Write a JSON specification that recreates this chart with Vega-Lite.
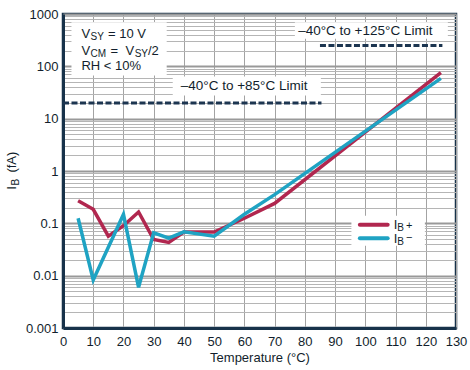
{
  "$schema": "https://vega.github.io/schema/vega-lite/v6.json",
  "width": 393,
  "height": 314,
  "autosize": "none",
  "padding": {"left": 63, "top": 14, "right": 14, "bottom": 42},
  "background": "white",
  "config": {
    "font": "Liberation Sans",
    "view": {"stroke": "#17324a", "strokeWidth": 2.5}
  },
  "datasets": {
    "series": [
      {"x": 5, "y": 0.27, "s": "IB+"},
      {"x": 10, "y": 0.185, "s": "IB+"},
      {"x": 15, "y": 0.057, "s": "IB+"},
      {"x": 20, "y": 0.09, "s": "IB+"},
      {"x": 25, "y": 0.165, "s": "IB+"},
      {"x": 30, "y": 0.049, "s": "IB+"},
      {"x": 35, "y": 0.043, "s": "IB+"},
      {"x": 40, "y": 0.068, "s": "IB+"},
      {"x": 50, "y": 0.068, "s": "IB+"},
      {"x": 60, "y": 0.125, "s": "IB+"},
      {"x": 70, "y": 0.24, "s": "IB+"},
      {"x": 125, "y": 76, "s": "IB+"},
      {"x": 5, "y": 0.125, "s": "IB−"},
      {"x": 10, "y": 0.0083, "s": "IB−"},
      {"x": 20, "y": 0.148, "s": "IB−"},
      {"x": 25, "y": 0.006, "s": "IB−"},
      {"x": 30, "y": 0.066, "s": "IB−"},
      {"x": 35, "y": 0.052, "s": "IB−"},
      {"x": 40, "y": 0.069, "s": "IB−"},
      {"x": 50, "y": 0.057, "s": "IB−"},
      {"x": 60, "y": 0.149, "s": "IB−"},
      {"x": 70, "y": 0.353, "s": "IB−"},
      {"x": 125, "y": 59, "s": "IB−"}
    ],
    "boxes": [
      {"x": 2.8, "x2": 34.3, "y": 697, "y2": 66.7},
      {"x": 36.3, "x2": 85.3, "y": 63.9, "y2": 27.6},
      {"x": 76.7, "x2": 127.3, "y": 697, "y2": 335},
      {"x": 95.4, "x2": 119.7, "y": 0.14, "y2": 0.0375}
    ],
    "limits": [
      {"x": 0, "x2": 85.5, "y": 20},
      {"x": 85, "x2": 125.5, "y": 250}
    ],
    "legendLines": [
      {"x": 98.2, "x2": 107.4, "y": 0.0944, "s": "IB+"},
      {"x": 98.2, "x2": 107.4, "y": 0.0516, "s": "IB−"}
    ],
    "texts": [
      {"x": 6.1, "y": 344.5, "t": "V", "k": "m"},
      {"x": 9.1, "y": 318, "t": "SY", "k": "s"},
      {"x": 14.9, "y": 344.5, "t": "= 10 V", "k": "m"},
      {"x": 6.1, "y": 168, "t": "V", "k": "m"},
      {"x": 9.1, "y": 154, "t": "CM", "k": "s"},
      {"x": 15.7, "y": 168, "t": "=", "k": "m"},
      {"x": 20.7, "y": 168, "t": "V", "k": "m"},
      {"x": 23.7, "y": 154, "t": "SY", "k": "s"},
      {"x": 28.1, "y": 168, "t": "/2", "k": "m"},
      {"x": 6.1, "y": 86.9, "t": "RH < 10%", "k": "m"},
      {"x": 109.4, "y": 0.078, "t": "I", "k": "m"},
      {"x": 110.6, "y": 0.071, "t": "B", "k": "s"},
      {"x": 113.5, "y": 0.0793, "t": "+", "k": "p"},
      {"x": 109.4, "y": 0.0428, "t": "I", "k": "m"},
      {"x": 110.6, "y": 0.0383, "t": "B", "k": "s"},
      {"x": 113.5, "y": 0.0457, "t": "−", "k": "p"},
      {"x": 59.9, "y": 42.9, "t": "–40°C to +85°C Limit", "k": "c"},
      {"x": 100, "y": 469, "t": "–40°C to +125°C Limit", "k": "c"},
      {"x": -15.4, "y": 0.44, "t": "I", "k": "r"},
      {"x": -14.6, "y": 0.526, "t": "B", "k": "rs"},
      {"x": -15.4, "y": 0.931, "t": "(fA)", "k": "r"}
    ]
  },
  "encoding": {
    "x": {
      "field": "x",
      "type": "quantitative",
      "scale": {"domain": [0, 130], "nice": false, "zero": false},
      "axis": {
        "values": [0, 10, 20, 30, 40, 50, 60, 70, 80, 90, 100, 110, 120, 130],
        "title": "Temperature (°C)",
        "grid": true,
        "gridColor": "#a3a3a3",
        "gridWidth": 1,
        "ticks": false,
        "tickSize": 0,
        "domainColor": "#17324a",
        "domainWidth": 3,
        "labelFontSize": 13,
        "labelColor": "#121e2c",
        "labelPadding": 7,
        "labelFlush": false,
        "labelOverlap": false,
        "titleFontSize": 13,
        "titleFontWeight": "normal",
        "titleColor": "#121e2c",
        "titlePadding": 3
      }
    },
    "y": {
      "field": "y",
      "type": "quantitative",
      "scale": {"type": "log", "domain": [0.001, 1000], "nice": false},
      "axis": {
        "values": [0.001,0.002,0.003,0.004,0.005,0.006,0.007,0.008,0.009,0.01,0.02,0.03,0.04,0.05,0.06,0.07,0.08,0.09,0.1,0.2,0.3,0.4,0.5,0.6,0.7,0.8,0.9,1,2,3,4,5,6,7,8,9,10,20,30,40,50,60,70,80,90,100,200,300,400,500,600,700,800,900,1000],
        "format": "~g",
        "labelExpr": "abs(log(datum.value)/LN10 - round(log(datum.value)/LN10)) < 0.0001 ? datum.label : ''",
        "title": null,
        "grid": true,
        "gridColor": {"condition": {"test": "abs(log(datum.value)/LN10 - round(log(datum.value)/LN10)) < 0.0001", "value": "#999999"}, "value": "#b5b5b5"},
        "gridWidth": {"condition": {"test": "abs(log(datum.value)/LN10 - round(log(datum.value)/LN10)) < 0.0001", "value": 2}, "value": 1},
        "ticks": false,
        "tickSize": 0,
        "domainColor": "#17324a",
        "domainWidth": 3,
        "labelFontSize": 13,
        "labelColor": "#121e2c",
        "labelPadding": 5,
        "labelOverlap": false
      }
    }
  },
  "layer": [
    {
      "data": {"name": "boxes"},
      "mark": {"type": "rect", "fill": "white", "stroke": null},
      "encoding": {"x2": {"field": "x2"}, "y2": {"field": "y2"}}
    },
    {
      "data": {"name": "limits"},
      "mark": {"type": "rule", "color": "#1c3550", "strokeWidth": 3, "strokeDash": [6, 2.5]},
      "encoding": {"x2": {"field": "x2"}}
    },
    {
      "data": {"name": "series"},
      "mark": {"type": "line", "strokeWidth": 3.5},
      "encoding": {
        "color": {"field": "s", "type": "nominal", "scale": {"domain": ["IB+", "IB−"], "range": ["#b1274f", "#1fa3c3"]}, "legend": null}
      }
    },
    {
      "data": {"name": "legendLines"},
      "mark": {"type": "rule", "strokeWidth": 4, "strokeCap": "round"},
      "encoding": {
        "x2": {"field": "x2"},
        "color": {"field": "s", "type": "nominal", "legend": null}
      }
    },
    {
      "data": {"name": "texts"},
      "transform": [{"filter": "datum.k == 'm'"}],
      "mark": {"type": "text", "align": "left", "baseline": "alphabetic", "fontSize": 13, "color": "#121e2c"},
      "encoding": {"text": {"field": "t"}}
    },
    {
      "data": {"name": "texts"},
      "transform": [{"filter": "datum.k == 's'"}],
      "mark": {"type": "text", "align": "left", "baseline": "alphabetic", "fontSize": 10, "color": "#121e2c"},
      "encoding": {"text": {"field": "t"}}
    },
    {
      "data": {"name": "texts"},
      "transform": [{"filter": "datum.k == 'p'"}],
      "mark": {"type": "text", "align": "left", "baseline": "alphabetic", "fontSize": 11, "color": "#121e2c"},
      "encoding": {"text": {"field": "t"}}
    },
    {
      "data": {"name": "texts"},
      "transform": [{"filter": "datum.k == 'c'"}],
      "mark": {"type": "text", "align": "center", "baseline": "middle", "fontSize": 13.5, "color": "#121e2c"},
      "encoding": {"text": {"field": "t"}}
    },
    {
      "data": {"name": "texts"},
      "transform": [{"filter": "datum.k == 'r'"}],
      "mark": {"type": "text", "align": "left", "baseline": "alphabetic", "fontSize": 13, "angle": 270, "color": "#121e2c"},
      "encoding": {"text": {"field": "t"}}
    },
    {
      "data": {"name": "texts"},
      "transform": [{"filter": "datum.k == 'rs'"}],
      "mark": {"type": "text", "align": "left", "baseline": "alphabetic", "fontSize": 10, "angle": 270, "color": "#121e2c"},
      "encoding": {"text": {"field": "t"}}
    }
  ]
}
